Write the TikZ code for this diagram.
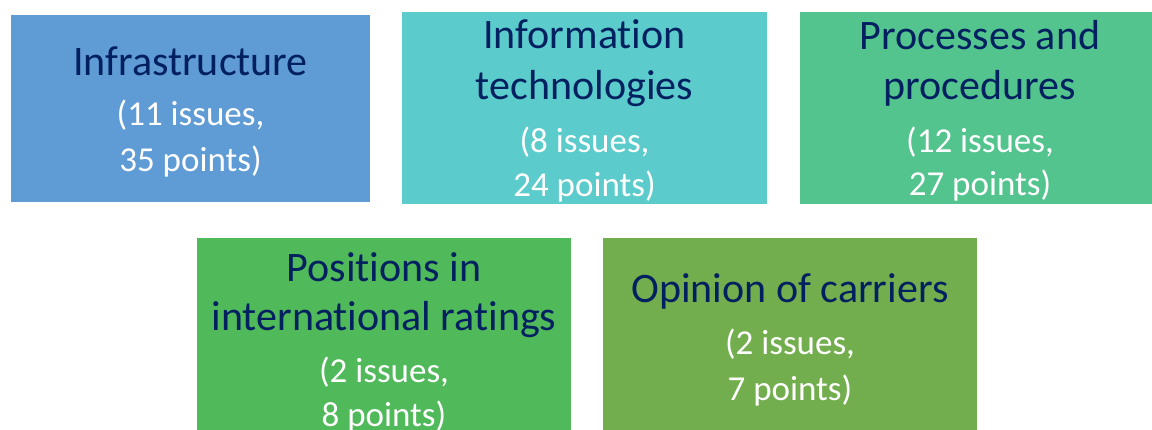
\documentclass[tikz,border=0pt]{standalone}
\usepackage{fontspec}
\setmainfont[Ligatures=NoCommon]{Carlito}
\definecolor{navy}{HTML}{002060}
\definecolor{cInfra}{HTML}{5F9BD4}
\definecolor{cIT}{HTML}{5BCBCB}
\definecolor{cProc}{HTML}{54C48E}
\definecolor{cPos}{HTML}{50B95A}
\definecolor{cOpin}{HTML}{73AE4E}
\begin{document}
\begin{tikzpicture}[x=1pt,y=-1pt,
  heading/.style={anchor=base,inner sep=0pt,text=navy,font=\fontsize{42}{48}\selectfont},
  detail/.style={anchor=base,inner sep=0pt,text=white,font=\fontsize{35}{40}\selectfont}]
\useasboundingbox (0,0) rectangle (1152,430);

% category panels
\path[fill=cInfra] (11,15) rectangle (370,202) coordinate (b1);
\path[fill=cIT]    (402,12) rectangle (767,204) coordinate (b2);
\path[fill=cProc]  (800,12) rectangle (1160,204) coordinate (b3);
\path[fill=cPos]   (197,238) rectangle (571,440) coordinate (b4);
\path[fill=cOpin]  (603,238) rectangle (977,440) coordinate (b5);

% Infrastructure
\node[heading] (t1a) at (190.5,76) {Infrastructure};
\node[detail]  (t1b) at (190.5,126) {(11 issues,};
\node[detail]  (t1c) at (190.5,172) {35 points)};

% Information technologies
\node[heading] (t2a) at (584.5,49) {Information};
\node[heading] (t2b) at (584.5,100) {technologies};
\node[detail]  (t2c) at (584.5,153) {(8 issues,};
\node[detail]  (t2d) at (584.5,197) {24 points)};

% Processes and procedures
\node[heading] (t3a) at (980,50) {Processes and};
\node[heading] (t3b) at (980,100) {procedures};
\node[detail]  (t3c) at (980,153) {(12 issues,};
\node[detail]  (t3d) at (980,196) {27 points)};

% Positions in international ratings
\node[heading] (t4a) at (384,282) {Positions in};
\node[heading] (t4b) at (384,331) {international ratings};
\node[detail]  (t4c) at (384,383) {(2 issues,};
\node[detail]  (t4d) at (384,426) {8 points)};

% Opinion of carriers
\node[heading] (t5a) at (790,303) {Opinion of carriers};
\node[detail]  (t5b) at (790,355) {(2 issues,};
\node[detail]  (t5c) at (790,400) {7 points)};
\end{tikzpicture}
\end{document}
